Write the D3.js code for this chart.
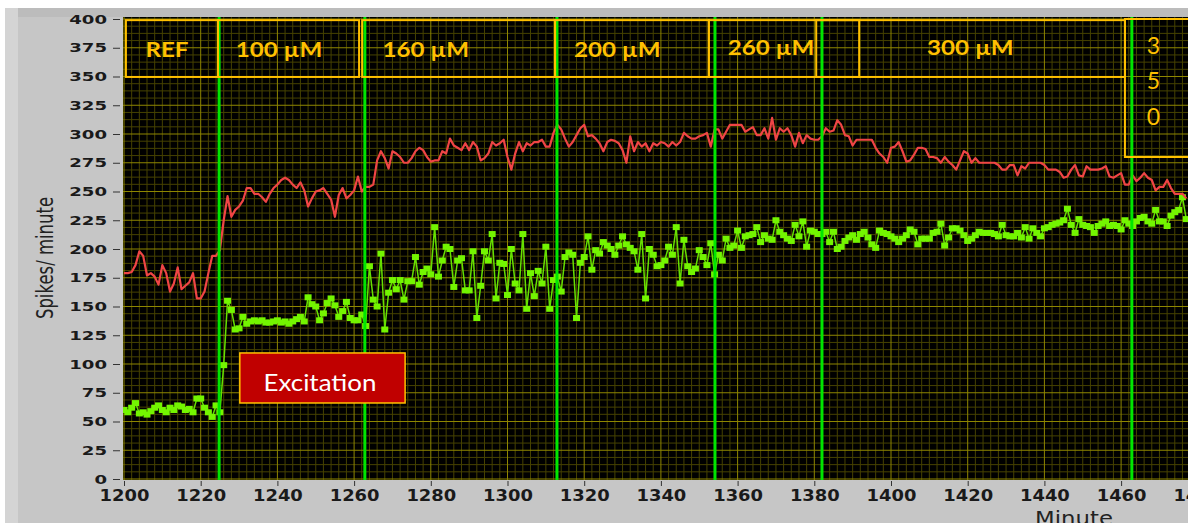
<!DOCTYPE html>
<html>
<head>
<meta charset="utf-8">
<script src="https://cdn.jsdelivr.net/npm/d3@7"></script>
<style>
  body { margin: 0; background: #fff; }
  svg { display: block; }
</style>
</head>
<body>
<svg id="chart" width="1188" height="523"></svg>
<script>
// one sample per minute
const minutes = d3.range(1200, 1478);

const redSpikes = [
  179,179,180,186,198,194,177,179,176,169,
  186,179,163,170,184,165,168,171,179,157,
  157,163,179,194,194,199,225,246,228,234,
  237,242,253,253,248,248,245,241,248,253,
  256,260,262,260,256,253,258,251,237,244,
  250,251,253,248,243,228,247,253,244,247,
  251,263,250,254,254,256,277,285,279,270,
  285,283,280,275,275,279,285,288,286,280,
  276,277,277,285,283,296,290,288,286,292,
  286,293,289,277,279,283,293,290,292,295,
  280,269,283,293,285,292,290,293,293,295,
  289,289,301,308,304,296,289,293,299,305,
  308,298,299,296,292,285,293,295,294,292,
  286,275,298,285,293,289,292,285,292,290,
  293,292,289,293,290,293,301,298,296,296,
  298,299,301,289,304,304,296,302,308,308,
  308,308,302,304,306,299,299,305,296,314,
  295,305,302,305,299,289,301,292,299,296,
  295,295,298,305,302,303,312,308,299,298,
  290,295,295,295,295,295,288,283,280,275,
  288,289,293,285,276,277,282,288,288,287,
  280,280,279,275,280,276,273,269,277,285,
  283,275,279,275,275,275,275,275,273,269,
  269,273,273,264,272,270,275,275,275,275,
  273,269,269,269,267,262,263,269,273,264,
  263,272,269,269,269,270,272,263,262,264,
  266,256,256,264,259,262,266,262,260,251,
  254,254,260,253,248,248,248,244
];

const greenSpikes = [
  60,58,62,66,57,58,56,59,62,64,
  60,58,62,60,64,63,60,61,58,70,
  70,62,58,54,64,58,99,155,147,130,
  131,141,135,137,138,137,138,136,136,137,
  138,136,137,135,137,139,141,137,158,152,
  150,138,144,153,157,151,141,146,154,140,
  138,138,143,133,185,156,150,196,130,162,
  173,165,173,156,172,172,193,169,180,183,
  178,219,176,190,202,200,167,190,192,164,
  164,198,140,168,198,190,213,157,188,187,
  160,200,170,164,213,148,179,159,181,170,
  202,148,173,176,163,193,197,195,140,188,
  193,211,182,199,196,206,203,200,195,203,
  211,204,201,198,182,213,157,200,195,185,
  186,190,202,195,219,170,208,185,180,183,
  199,193,186,205,178,195,190,209,201,203,
  216,201,211,212,213,219,206,212,209,208,
  225,215,212,209,207,221,211,224,202,216,
  215,213,213,215,206,215,200,202,207,210,
  212,208,213,215,210,204,201,216,214,213,
  211,209,206,209,212,217,215,204,209,209,
  209,214,215,222,203,210,218,218,216,212,
  207,209,212,215,214,214,214,213,211,221,
  212,211,211,214,210,219,209,218,214,211,
  218,219,221,222,223,225,235,221,214,226,
  221,220,219,214,220,222,224,220,221,220,
  217,225,222,220,224,227,228,224,222,234,
  224,224,220,229,232,234,245,226
];

// concentration changes (minute)
const cursorMinutes = [1224.8, 1262.8, 1312.9, 1354.1, 1382.0, 1462.8];

const phaseLabels = ["REF", "100 µM", "160 µM", "200 µM", "260 µM", "300 µM"];
const phaseStart = [1200.5, 1224.5, 1262.1, 1312.4, 1352.5, 1380.5];
const phaseEnd = [1224.5, 1261.3, 1312.4, 1352.5, 1391.7, 1461.0];
const phaseLabelAt = [1211.2, 1240.4, 1278.7, 1328.6, 1368.7, 1420.7];
const lastPhase = ["3", "5", "0"];

const xTicks = d3.range(1200, 1481, 20);
const yTicks = d3.range(0, 401, 25);

const width = 1188;
const height = 523;
const orange = "#ffc000";

const x = d3.scaleLinear().domain([1200, 1480]).range([124, 1197.8]);
const y = d3.scaleLinear().domain([0, 400]).range([479, 19]);

const svg = d3.select("#chart");

// grey panel
svg.append("rect")
  .attr("x", 5).attr("y", 8)
  .attr("width", width - 5).attr("height", height - 8)
  .attr("fill", "#c6c6c6");
svg.append("rect")
  .attr("x", 5).attr("y", 8)
  .attr("width", 13).attr("height", height - 8)
  .attr("fill", "#d4d4d4");
svg.append("rect")
  .attr("x", 18).attr("y", 8)
  .attr("width", width - 18).attr("height", 9)
  .attr("fill", "#bcbcbc");

const plotLeft = x(1200) - 1;
const plotTop = y(400) - 2;
const plotBottom = y(0) + 1;

svg.append("rect")
  .attr("x", plotLeft).attr("y", plotTop)
  .attr("width", width - plotLeft).attr("height", plotBottom - plotTop)
  .attr("fill", "#000");

svg.append("clipPath").attr("id", "plot-clip")
  .append("rect")
  .attr("x", plotLeft).attr("y", plotTop)
  .attr("width", width - plotLeft).attr("height", plotBottom - plotTop);

const plot = svg.append("g").attr("clip-path", "url(#plot-clip)");

// grid
const minorX = d3.range(1200, 1481, 2).filter(d => d % 20 !== 0);
const minorY = d3.range(0, 401, 6.25).filter(d => d % 25 !== 0);

plot.selectAll(".gx-minor").data(minorX).join("line")
  .attr("x1", d => x(d)).attr("x2", d => x(d))
  .attr("y1", plotTop).attr("y2", plotBottom)
  .attr("stroke", "#464200").attr("stroke-width", 1);
plot.selectAll(".gy-minor").data(minorY).join("line")
  .attr("x1", plotLeft).attr("x2", width)
  .attr("y1", d => y(d)).attr("y2", d => y(d))
  .attr("stroke", "#464200").attr("stroke-width", 1);
plot.selectAll(".gx-major").data(xTicks).join("line")
  .attr("x1", d => x(d)).attr("x2", d => x(d))
  .attr("y1", plotTop).attr("y2", plotBottom)
  .attr("stroke", "#8e8600").attr("stroke-width", 1);
plot.selectAll(".gy-major").data(yTicks).join("line")
  .attr("x1", plotLeft).attr("x2", width)
  .attr("y1", d => y(d)).attr("y2", d => y(d))
  .attr("stroke", "#8e8600").attr("stroke-width", 1);

// series
const redPts = minutes.map((m, i) => ({ x: m, y: redSpikes[i] }));
const greenPts = minutes.map((m, i) => ({ x: m, y: greenSpikes[i] }));

const line = d3.line()
  .x(d => x(d.x))
  .y(d => y(d.y));

plot.append("path")
  .datum(greenPts)
  .attr("fill", "none")
  .attr("stroke", "#66e000")
  .attr("stroke-width", 1.5)
  .attr("d", line);

plot.selectAll(".marker").data(greenPts).join("rect")
  .attr("x", d => x(d.x) - 3.5)
  .attr("y", d => y(d.y) - 3)
  .attr("width", 7).attr("height", 6)
  .attr("fill", "#73f500");

plot.append("path")
  .datum(redPts)
  .attr("fill", "none")
  .attr("stroke", "#f04545")
  .attr("stroke-width", 2.2)
  .attr("stroke-linejoin", "round")
  .attr("d", line);

// cursors
plot.selectAll(".cursor").data(cursorMinutes).join("line")
  .attr("x1", d => x(d)).attr("x2", d => x(d))
  .attr("y1", plotTop).attr("y2", plotBottom)
  .attr("stroke", "#00e600").attr("stroke-width", 3);

// phase boxes
const boxes = plot.append("g");
phaseLabels.forEach((label, i) => {
  boxes.append("rect")
    .attr("x", x(phaseStart[i])).attr("y", y(399))
    .attr("width", x(phaseEnd[i]) - x(phaseStart[i]))
    .attr("height", y(349.6) - y(399))
    .attr("fill", "none")
    .attr("stroke", orange).attr("stroke-width", 2);
  boxes.append("text")
    .attr("transform", `translate(${x(phaseLabelAt[i])},${y(i >= 4 ? 368.5 : 367)}) scale(1.15,1)`)
    .attr("text-anchor", "middle")
    .attr("font-family", "Lato, 'Open Sans', sans-serif")
    .attr("font-weight", "bold")
    .attr("font-size", 21)
    .attr("fill", orange)
    .text(label);
});

boxes.append("rect")
  .attr("x", x(1461)).attr("y", y(400))
  .attr("width", x(1490) - x(1461))
  .attr("height", y(280) - y(400))
  .attr("fill", "none")
  .attr("stroke", orange).attr("stroke-width", 2);

boxes.selectAll(".digit").data(lastPhase).join("text")
  .attr("x", x(1468.4))
  .attr("y", (d, i) => y(370) + i * 35.5)
  .attr("text-anchor", "middle")
  .attr("font-family", "Lato, 'Open Sans', sans-serif")
  .attr("font-size", 23)
  .attr("fill", orange)
  .text(d => d);

// excitation label
const exc = svg.append("g");
exc.append("rect")
  .attr("x", x(1230.2)).attr("y", y(109.6))
  .attr("width", x(1273.3) - x(1230.2))
  .attr("height", y(66.1) - y(109.6))
  .attr("fill", "#c00000")
  .attr("stroke", orange).attr("stroke-width", 1.5);
exc.append("text")
  .attr("transform", `translate(${x(1251.1)},${y(76.5)}) scale(1.08,1)`)
  .attr("text-anchor", "middle")
  .attr("font-family", "Lato, 'Open Sans', sans-serif")
  .attr("font-size", 24)
  .attr("fill", "#fff")
  .text("Excitation");

// axes
const yAxis = svg.append("g")
  .attr("transform", "translate(120,0)")
  .call(d3.axisLeft(y).tickValues(yTicks).tickSize(7).tickPadding(6));
yAxis.select(".domain").remove();
yAxis.selectAll("line").attr("stroke", "#333");
yAxis.selectAll("text")
  .attr("font-family", "'DejaVu Sans', sans-serif")
  .attr("font-weight", "bold")
  .attr("font-size", 12.5)
  .attr("fill", "#1a1a1a")
  .attr("x", -13 / 1.45)
  .attr("transform", "scale(1.45,1)");

const xAxis = svg.append("g")
  .attr("transform", `translate(0,${y(0) + 2})`)
  .call(d3.axisBottom(x).tickValues(xTicks).tickSize(5).tickPadding(4).tickFormat(d3.format("d")));
xAxis.select(".domain").remove();
xAxis.selectAll("line").attr("stroke", "#333");
xAxis.selectAll("text")
  .attr("font-family", "'DejaVu Sans', sans-serif")
  .attr("font-weight", "bold")
  .attr("font-size", 16)
  .attr("fill", "#1a1a1a")
  .attr("transform", "scale(1.12,1)");

svg.append("text")
  .attr("transform", "translate(1074,525) scale(1.2,1)")
  .attr("text-anchor", "middle")
  .attr("font-family", "'DejaVu Sans', sans-serif")
  .attr("font-size", 19)
  .attr("fill", "#222")
  .text("Minute");

svg.append("text")
  .attr("transform", "translate(53,258) rotate(-90) scale(1,1.4)")
  .attr("text-anchor", "middle")
  .attr("font-family", "'DejaVu Sans', sans-serif")
  .attr("font-size", 16.5)
  .attr("fill", "#222")
  .text("Spikes/ minute");
</script>
</body>
</html>
